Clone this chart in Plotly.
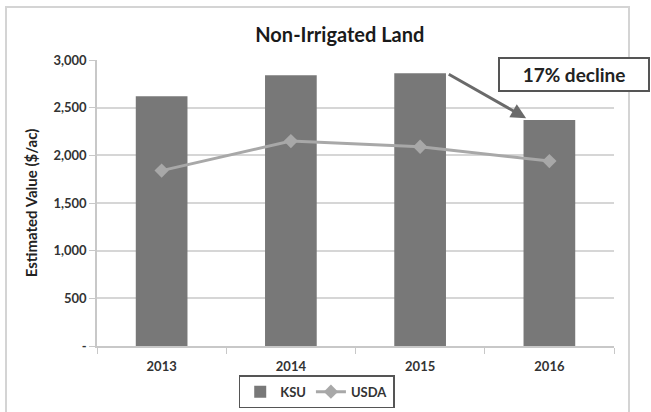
import plotly.graph_objects as go

years = ["2013", "2014", "2015", "2016"]
ksu = [2620, 2840, 2860, 2370]
usda = [1840, 2150, 2090, 1940]
y_ticks = [0, 500, 1000, 1500, 2000, 2500, 3000]
y_tick_text = ["-", "500", "1,000", "1,500", "2,000", "2,500", "3,000"]

FONT = "Lato"

fig = go.Figure()
fig.add_trace(go.Bar(
    x=years, y=ksu, name="KSU",
    marker=dict(color="#787878", line=dict(width=0)),
    width=0.4,
))
fig.add_trace(go.Scatter(
    x=years, y=usda, name="USDA", mode="lines+markers",
    line=dict(color="#a8a8a8", width=3),
    marker=dict(symbol="diamond", size=11, color="#a8a8a8"),
))

# arrow from the 2015 bar top down to the 2016 bar
fig.add_annotation(
    x=2.82, y=ksu[3] + 20, xref="x", yref="y",
    ax=2.21, ay=ksu[2], axref="x", ayref="y",
    showarrow=True, arrowhead=2, arrowsize=1, arrowwidth=3,
    arrowcolor="#6a6a6a", text="",
)
fig.add_annotation(
    x=0.922, y=0.951, xref="paper", yref="paper",
    text="<b>17% decline</b>", showarrow=False,
    font=dict(family=FONT, size=19, color="#222222"),
    bgcolor="white", bordercolor="#555555", borderwidth=2,
    width=146, height=29, xanchor="center", yanchor="middle",
)

# outer chart frame
fig.add_shape(
    type="rect", xref="paper", yref="paper",
    x0=-0.176, x1=1.029, y0=-0.4, y1=1.185,
    line=dict(color="#d4d4d4", width=2), layer="below",
)

fig.update_layout(
    width=651, height=412,
    margin=dict(l=97, r=37, t=60, b=66, autoexpand=False),
    paper_bgcolor="white", plot_bgcolor="white",
    title=dict(
        text="<b>Non-Irrigated Land</b>", x=0.522, xanchor="center",
        y=0.915, yanchor="middle",
        font=dict(family=FONT, size=20, color="#1a1a1a"),
    ),
    font=dict(family=FONT, color="#333333"),
    showlegend=True,
    legend=dict(
        orientation="h", x=0.425, xanchor="center", y=-0.16, yanchor="middle",
        bordercolor="#555555", borderwidth=1.5,
        font=dict(family=FONT, size=13, color="#333333", weight="bold"),
        itemwidth=30, traceorder="normal",
    ),
    bargap=0.6,
)
fig.update_xaxes(
    type="category", showline=True, linecolor="#c8c8c8", linewidth=1.5,
    ticks="outside", tickson="boundaries", ticklen=6, tickcolor="#c8c8c8",
    ticklabelstandoff=8, automargin=False,
    tickfont=dict(family=FONT, size=13, color="#333333", weight="bold"),
    showgrid=False,
)
fig.update_yaxes(
    range=[0, 3000], tickvals=y_ticks, ticktext=y_tick_text,
    showline=True, linecolor="#c8c8c8", linewidth=1.5,
    ticks="outside", ticklen=6, tickcolor="#c8c8c8", automargin=False,
    showgrid=True, gridcolor="#d6d6d6", gridwidth=1.5, zeroline=False,
    tickfont=dict(family=FONT, size=13, color="#333333", weight="bold"),
    title=dict(text="<b>Estimated Value ($/ac)</b>", standoff=12,
               font=dict(family=FONT, size=15, color="#222222")),
)

fig.write_html("out.html")
